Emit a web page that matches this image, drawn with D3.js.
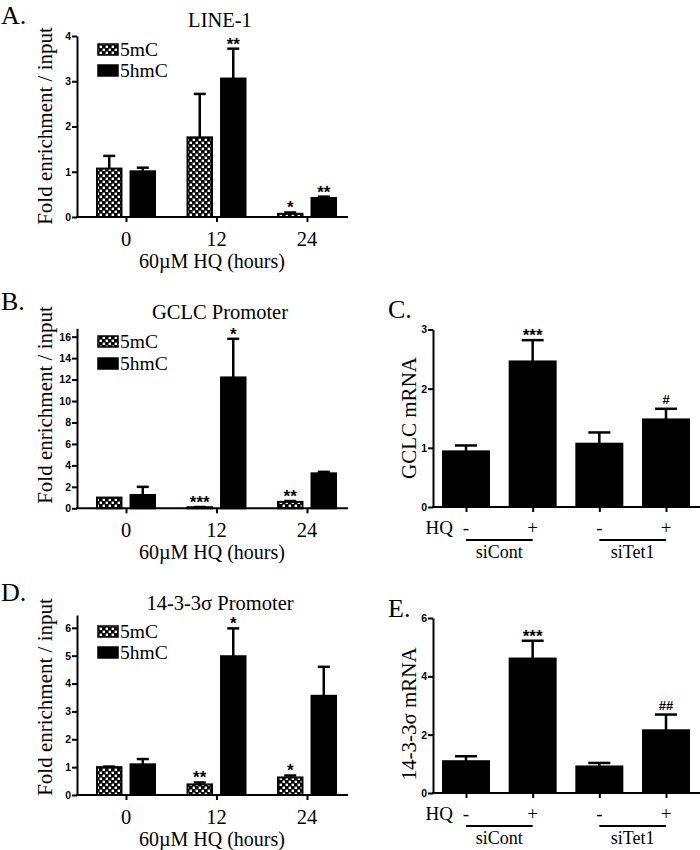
<!DOCTYPE html>
<html><head><meta charset="utf-8">
<script src="https://cdn.jsdelivr.net/npm/d3@7/dist/d3.min.js"></script>
<style>
body{margin:0;background:#fff;}
svg{display:block;}
</style></head>
<body>
<svg id="chart" width="700" height="850"></svg>
<script>
// ---------------- DATA ----------------
const timeCats = ["0", "12", "24"];
const seriesNames = ["5mC", "5hmC"];
const xTitle = "60\u00B5M HQ (hours)";

// Panel A: LINE-1
const lineMean5mC = [1.07, 1.76, 0.07];
const lineSem5mC  = [0.28, 0.96, 0.03];
const lineMean5hmC = [1.01, 3.06, 0.42];
const lineSem5hmC  = [0.08, 0.66, 0.03];
const lineSig5mC  = ["", "", "*"];
const lineSig5hmC = ["", "**", "**"];
const lineTicks = [0, 1, 2, 3, 4];

// Panel B: GCLC Promoter
const gclcMean5mC = [1.0, 0.1, 0.6];
const gclcSem5mC  = [0.0, 0.02, 0.08];
const gclcMean5hmC = [1.24, 12.2, 3.26];
const gclcSem5hmC  = [0.76, 3.6, 0.14];
const gclcSig5mC  = ["", "***", "**"];
const gclcSig5hmC = ["", "*", ""];
const gclcTicks = [0, 2, 4, 6, 8, 10, 12, 14, 16];

// Panel D: 14-3-3σ Promoter
const sigmaMean5mC = [1.0, 0.38, 0.63];
const sigmaSem5mC  = [0.02, 0.07, 0.07];
const sigmaMean5hmC = [1.1, 4.98, 3.56];
const sigmaSem5hmC  = [0.19, 1.0, 1.04];
const sigmaSig5mC  = ["", "**", "*"];
const sigmaSig5hmC = ["", "*", ""];
const sigmaTicks = [0, 1, 2, 3, 4, 5, 6];

// Panels C & E: mRNA
const mrnaCats = ["siCont-", "siCont+", "siTet1-", "siTet1+"];
const hqSigns = ["-", "+", "-", "+"];
const siGroups = ["siCont", "siTet1"];
const gclcMrnaMean = [0.94, 2.46, 1.07, 1.48];
const gclcMrnaSem  = [0.10, 0.36, 0.19, 0.18];
const gclcMrnaSig  = ["", "***", "", "#"];
const gclcMrnaTicks = [0, 1, 2, 3];
const sigmaMrnaMean = [1.09, 4.61, 0.91, 2.15];
const sigmaMrnaSem  = [0.17, 0.61, 0.12, 0.54];
const sigmaMrnaSig  = ["", "***", "", "##"];
const sigmaMrnaTicks = [0, 2, 4, 6];

// ---------------- DRAW ----------------
const svg = d3.select("#chart");
svg.append("rect").attr("width", 700).attr("height", 850).attr("fill", "#fff");
const defs = svg.append("defs");
const pat = defs.append("pattern").attr("id", "checker")
  .attr("patternUnits", "userSpaceOnUse").attr("width", 6).attr("height", 6);
pat.append("rect").attr("width", 6).attr("height", 6).attr("fill", "#000");
pat.append("rect").attr("x", 0.6).attr("y", 0.6).attr("width", 2.4).attr("height", 2.4).attr("fill", "#fff");
pat.append("rect").attr("x", 3.6).attr("y", 3.6).attr("width", 2.4).attr("height", 2.4).attr("fill", "#fff");

const SERIF = '"Liberation Serif","Times New Roman",serif';
const SANS = '"Liberation Sans",Arial,sans-serif';

function styleAxis(sel) {
  sel.selectAll("path,line").attr("stroke", "#000").attr("stroke-width", 2);
  sel.selectAll("text").attr("font-family", SANS).attr("font-weight", "bold")
    .attr("font-size", 10.5).attr("fill", "#000");
}

function yAxis(x0, y, ticks) {
  const g = svg.append("g").attr("transform", `translate(${x0},0)`)
    .call(d3.axisLeft(y).tickValues(ticks).tickSize(5).tickPadding(1).tickSizeOuter(0)
      .tickFormat(d3.format("d")));
  styleAxis(g);
}

function errBar(cx, yTop, yErr, capW) {
  svg.append("line").attr("x1", cx).attr("x2", cx).attr("y1", yTop).attr("y2", yErr)
    .attr("stroke", "#000").attr("stroke-width", 2.5);
  svg.append("line").attr("x1", cx - capW / 2).attr("x2", cx + capW / 2).attr("y1", yErr).attr("y2", yErr)
    .attr("stroke", "#000").attr("stroke-width", 2.5);
}

function sigText(cx, yErr, txt) {
  if (!txt) return;
  if (txt.indexOf("#") >= 0) {
    svg.append("text").attr("x", cx).attr("y", yErr - 5).attr("text-anchor", "middle")
      .attr("font-family", SANS).attr("font-weight", "bold").attr("font-size", 13).text(txt);
  } else {
    svg.append("text").attr("x", cx).attr("y", yErr + 1).attr("text-anchor", "middle")
      .attr("font-family", SANS).attr("font-weight", "bold").attr("font-size", 17)
      .text(txt);
  }
}

function grouped(p) {
  const y = d3.scaleLinear().domain([0, p.yMax]).range([p.y0, p.yTop]);
  const xc = d3.scalePoint().domain(timeCats).range([126, 307]);
  const xi = d3.scaleBand().domain(seriesNames).range([-29, 29]).paddingInner(0.27);
  const fills = {"5mC": "url(#checker)", "5hmC": "#000"};
  const means = {"5mC": p.m1, "5hmC": p.m2};
  const sems = {"5mC": p.s1, "5hmC": p.s2};
  const sigs = {"5mC": p.g1, "5hmC": p.g2};
  seriesNames.forEach(s => {
    timeCats.forEach((c, i) => {
      const bx = xc(c) + xi(s);
      const bw = xi.bandwidth();
      const v = means[s][i];
      svg.append("rect").attr("x", bx).attr("y", y(v)).attr("width", bw)
        .attr("height", Math.max(0, y(0) - y(v)))
        .attr("fill", fills[s]).attr("stroke", "#000").attr("stroke-width", 2);
      const e = v + sems[s][i];
      if (sems[s][i] > 0) errBar(bx + bw / 2, y(v), y(e), 12);
      sigText(bx + bw / 2, y(e), sigs[s][i]);
    });
  });
  yAxis(77, y, p.ticks);
  svg.append("line").attr("x1", 76).attr("x2", 348).attr("y1", y(0)).attr("y2", y(0))
    .attr("stroke", "#000").attr("stroke-width", 2);
  const xg = svg.append("g").attr("transform", `translate(0,${y(0)})`)
    .call(d3.axisBottom(xc).tickSize(5).tickSizeOuter(0).tickPadding(0));
  xg.select(".domain").remove();
  styleAxis(xg);
  xg.selectAll("text").remove();
  timeCats.forEach(c => {
    svg.append("text").attr("x", xc(c)).attr("y", y(0) + 29).attr("text-anchor", "middle")
      .attr("font-family", SERIF).attr("font-size", 20.5).text(c);
  });
  svg.append("text").attr("x", 212).attr("y", y(0) + 51).attr("text-anchor", "middle")
    .attr("font-family", SERIF).attr("font-size", 20).text(xTitle);
  svg.append("text").attr("x", 220).attr("y", p.titleY).attr("text-anchor", "middle")
    .attr("font-family", SERIF).attr("font-size", 20.5).text(p.title);
  svg.append("text").attr("x", 1).attr("y", p.letterY)
    .attr("font-family", SERIF).attr("font-size", 26).text(p.letter);
  svg.append("text").attr("transform", `translate(52,${p.yLabelC}) rotate(-90)`)
    .attr("text-anchor", "middle").attr("font-family", SERIF).attr("font-size", 21)
    .text("Fold enrichment / input");
  seriesNames.forEach((s, i) => {
    const ly = p.legY + i * p.legStep;
    svg.append("rect").attr("x", 98).attr("y", ly - 12).attr("width", 20).attr("height", 11)
      .attr("fill", fills[s]).attr("stroke", "#000").attr("stroke-width", 1.5);
    svg.append("text").attr("x", 120).attr("y", ly).attr("font-family", SERIF)
      .attr("font-size", 19.5).text(s);
  });
}

function simple(p) {
  const y = d3.scaleLinear().domain([0, p.yMax]).range([p.y0, p.yTop]);
  const xc = d3.scalePoint().domain(mrnaCats).range([466, 666]);
  const bw = 46;
  mrnaCats.forEach((c, i) => {
    const v = p.mean[i];
    svg.append("rect").attr("x", xc(c) - bw / 2).attr("y", y(v)).attr("width", bw)
      .attr("height", y(0) - y(v)).attr("fill", "#000").attr("stroke", "#000").attr("stroke-width", 2);
    const e = v + p.sem[i];
    errBar(xc(c), y(v), y(e), 22);
    sigText(xc(c), y(e), p.sig[i]);
  });
  yAxis(433, y, p.ticks);
  svg.append("line").attr("x1", 432).attr("x2", 700).attr("y1", y(0)).attr("y2", y(0))
    .attr("stroke", "#000").attr("stroke-width", 2);
  const xg = svg.append("g").attr("transform", `translate(0,${y(0)})`)
    .call(d3.axisBottom(xc).tickSize(5).tickSizeOuter(0));
  xg.select(".domain").remove();
  styleAxis(xg);
  xg.selectAll("text").remove();
  const base = y(0);
  svg.append("text").attr("x", 453).attr("y", base + 27).attr("text-anchor", "end")
    .attr("font-family", SERIF).attr("font-size", 19).text("HQ");
  mrnaCats.forEach((c, i) => {
    svg.append("text").attr("x", xc(c)).attr("y", base + 27).attr("text-anchor", "middle")
      .attr("font-family", SERIF).attr("font-size", 19).text(hqSigns[i]);
  });
  siGroups.forEach((g, k) => {
    const a = xc(mrnaCats[k * 2]), b = xc(mrnaCats[k * 2 + 1]);
    svg.append("line").attr("x1", a).attr("x2", b).attr("y1", base + 33).attr("y2", base + 33)
      .attr("stroke", "#000").attr("stroke-width", 2);
    svg.append("text").attr("x", (a + b) / 2).attr("y", base + 51).attr("text-anchor", "middle")
      .attr("font-family", SERIF).attr("font-size", 18).text(g);
  });
  svg.append("text").attr("x", 388).attr("y", p.letterY)
    .attr("font-family", SERIF).attr("font-size", 26).text(p.letter);
  svg.append("text").attr("transform", `translate(416,${p.yLabelC}) rotate(-90)`)
    .attr("text-anchor", "middle").attr("font-family", SERIF).attr("font-size", 21)
    .text(p.ylabel);
}

grouped({m1: lineMean5mC, s1: lineSem5mC, m2: lineMean5hmC, s2: lineSem5hmC,
  g1: lineSig5mC, g2: lineSig5hmC, ticks: lineTicks, yMax: 4, y0: 217, yTop: 36,
  title: "LINE-1", titleY: 27, letter: "A.", letterY: 24, yLabelC: 126, legY: 56, legStep: 21});
grouped({m1: gclcMean5mC, s1: gclcSem5mC, m2: gclcMean5hmC, s2: gclcSem5hmC,
  g1: gclcSig5mC, g2: gclcSig5hmC, ticks: gclcTicks, yMax: 16.78, y0: 508.3, yTop: 328.3,
  title: "GCLC Promoter", titleY: 319, letter: "B.", letterY: 310, yLabelC: 405, legY: 348, legStep: 22});
grouped({m1: sigmaMean5mC, s1: sigmaSem5mC, m2: sigmaMean5hmC, s2: sigmaSem5hmC,
  g1: sigmaSig5mC, g2: sigmaSig5hmC, ticks: sigmaTicks, yMax: 6.46, y0: 795, yTop: 615,
  title: "14-3-3\u03C3 Promoter", titleY: 610, letter: "D.", letterY: 601, yLabelC: 697, legY: 638, legStep: 21});
simple({mean: gclcMrnaMean, sem: gclcMrnaSem, sig: gclcMrnaSig, ticks: gclcMrnaTicks,
  yMax: 3, y0: 507, yTop: 329.5, letter: "C.", letterY: 318, yLabelC: 418, ylabel: "GCLC mRNA"});
simple({mean: sigmaMrnaMean, sem: sigmaMrnaSem, sig: sigmaMrnaSig, ticks: sigmaMrnaTicks,
  yMax: 6, y0: 793, yTop: 618, letter: "E.", letterY: 617, yLabelC: 714, ylabel: "14-3-3\u03C3 mRNA"});
</script>
</body></html>
